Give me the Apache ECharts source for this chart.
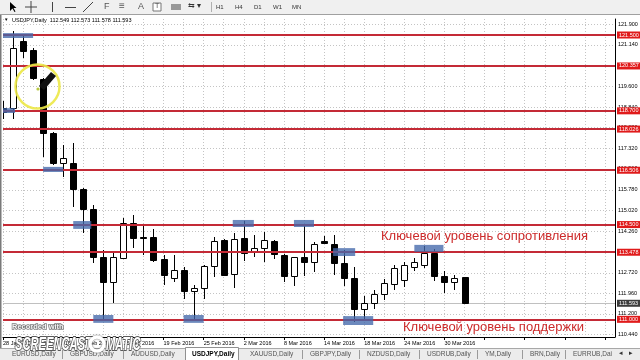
<!DOCTYPE html>
<html><head><meta charset="utf-8">
<script src="https://cdn.jsdelivr.net/npm/echarts@6/dist/echarts.min.js"></script>
<style>html,body{margin:0;padding:0;background:#fff}#c{width:640px;height:360px}</style>
</head><body><div id="c"></div>
<script>
const dates = ['28 Jan 2016','29 Jan 2016','1 Feb 2016','2 Feb 2016','3 Feb 2016','4 Feb 2016','5 Feb 2016','8 Feb 2016','9 Feb 2016','10 Feb 2016','11 Feb 2016','12 Feb 2016','15 Feb 2016','16 Feb 2016','17 Feb 2016','18 Feb 2016','19 Feb 2016','22 Feb 2016','23 Feb 2016','24 Feb 2016','25 Feb 2016','26 Feb 2016','29 Feb 2016','1 Mar 2016','2 Mar 2016','3 Mar 2016','4 Mar 2016','7 Mar 2016','8 Mar 2016','9 Mar 2016','10 Mar 2016','11 Mar 2016','14 Mar 2016','15 Mar 2016','16 Mar 2016','17 Mar 2016','18 Mar 2016','21 Mar 2016','22 Mar 2016','23 Mar 2016','24 Mar 2016','25 Mar 2016','28 Mar 2016','29 Mar 2016','30 Mar 2016','31 Mar 2016','1 Apr 2016'];
const opens  = [118.80,118.80,121.28,120.95,119.88,117.87,116.76,116.76,115.81,115.06,113.31,112.37,113.28,114.55,114.04,114.05,113.22,112.52,112.82,112.06,112.15,112.98,113.93,112.67,113.99,113.48,113.65,113.90,113.38,112.60,113.29,113.13,113.90,113.78,113.09,112.52,111.40,111.60,111.95,112.30,112.45,112.95,113.00,113.45,112.60,112.39,112.549];
const highs  = [119.05,121.65,121.47,121.02,119.91,117.92,117.44,117.51,115.85,115.22,113.56,113.50,114.73,114.85,114.48,114.32,113.38,113.38,112.94,112.27,113.00,114.03,113.96,114.18,114.64,114.11,114.24,113.93,113.40,113.31,114.52,113.87,114.06,114.11,113.56,112.94,111.85,112.10,112.50,113.00,113.10,113.25,113.70,113.60,112.80,112.64,112.573];
const lows   = [118.40,118.40,120.66,119.84,117.01,116.70,116.27,115.16,114.18,113.09,110.98,111.61,113.26,113.62,113.38,113.13,112.27,112.39,111.74,110.98,111.74,112.57,112.62,112.15,113.17,113.29,113.13,113.22,112.39,112.23,112.60,112.76,113.79,112.64,112.23,110.90,111.00,111.40,111.70,112.10,112.20,112.80,112.90,112.40,111.98,112.08,111.578];
const closes = [118.66,121.03,120.91,119.92,117.87,116.76,116.96,115.80,115.06,113.31,112.39,113.31,114.55,114.01,114.00,113.19,112.64,112.82,112.06,112.17,112.98,113.90,112.64,113.96,113.44,113.65,113.93,113.41,112.60,113.29,113.13,113.78,113.81,113.09,112.52,111.37,111.60,111.95,112.35,112.90,113.00,113.10,113.45,112.60,112.39,112.52,111.593];
const levels = [121.500,120.357,118.700,118.026,116.506,114.500,113.478,111.000];
const yTicks = [121.900,121.140,120.380,119.600,118.840,118.080,117.320,116.560,115.780,115.020,114.260,113.500,112.720,111.960,111.200,110.440];
const lastPrice = 111.593;
// zones: [barFrom, barTo, priceLow, priceHigh]
const zones = [[-0.2,3.0,121.39,121.57],[-0.2,1.2,118.62,118.80],[4.0,6.0,116.44,116.63],[7.0,8.8,114.34,114.63],[9.0,11.0,110.87,111.16],[18.0,20.0,110.87,111.16],[22.9,25.0,114.41,114.67],[29.0,31.0,114.41,114.67],[32.9,35.1,113.34,113.63],[33.9,36.9,110.79,111.12],[41.0,43.9,113.49,113.75]];
const header = 'USDJPY,Daily  112.549 112.573 111.578 111.593';
const resistText = 'Ключевой уровень сопротивления';
const supportText = 'Ключевой уровень поддержки';
const tabs = ['EURUSD,Daily','GBPUSD,Daily','AUDUSD,Daily','USDJPY,Daily','XAUUSD,Daily','GBPJPY,Daily','NZDUSD,Daily','USDRUB,Daily','YM,Daily','BRN,Daily','EURRUB,Dai'];
const tabX = [12,70,131,192,250,310,367,427,485,530,573];
const periods = ['H1','H4','D1','W1','MN'];

const FONT = 'Liberation Sans';
const candleData = dates.map((d,i)=>[i, opens[i], closes[i], lows[i], highs[i]]);

const chart = echarts.init(document.getElementById('c'), null, {renderer:'canvas'});

const gridStyle = {color:'#c4c4c4', type:[1,2], width:1};

const graphics = [];
// toolbar
graphics.push({type:'rect', shape:{x:0,y:0,width:640,height:14}, style:{fill:'#f0f0f0'}, z:100});
graphics.push({type:'line', shape:{x1:0,y1:14.5,x2:640,y2:14.5}, style:{stroke:'#a0a0a0',lineWidth:1}, z:100});
graphics.push({type:'polygon', shape:{points:[[10,2],[10,11],[12.5,8.5],[14.5,12],[15.5,11.5],[13.5,8],[16.5,8]]}, style:{fill:'#000'}, z:101});
graphics.push({type:'line', shape:{x1:25,y1:7,x2:37,y2:7}, style:{stroke:'#444',lineWidth:1}, z:101});
graphics.push({type:'line', shape:{x1:31,y1:1,x2:31,y2:13}, style:{stroke:'#444',lineWidth:1}, z:101});
graphics.push({type:'line', shape:{x1:52.5,y1:2,x2:52.5,y2:12}, style:{stroke:'#444',lineWidth:1}, z:101});
graphics.push({type:'line', shape:{x1:65,y1:7.5,x2:76,y2:7.5}, style:{stroke:'#444',lineWidth:1}, z:101});
graphics.push({type:'line', shape:{x1:83,y1:12,x2:93,y2:2}, style:{stroke:'#444',lineWidth:1}, z:101});
graphics.push({type:'text', style:{text:'F', x:104, y:2, fontSize:9, fontFamily:FONT, fill:'#555'}, z:101});
graphics.push({type:'text', style:{text:'≡', x:119, y:1, fontSize:10, fontFamily:FONT, fill:'#555'}, z:101});
graphics.push({type:'text', style:{text:'A', x:138, y:2, fontSize:9, fontFamily:FONT, fill:'#555'}, z:101});
graphics.push({type:'rect', shape:{x:153,y:3,width:8,height:8}, style:{fill:'#fff',stroke:'#777',lineWidth:1}, z:101});
graphics.push({type:'text', style:{text:'T', x:155, y:3, fontSize:7, fontFamily:FONT, fill:'#555'}, z:102});
graphics.push({type:'rect', shape:{x:171,y:4,width:10,height:6}, style:{fill:'#999'}, z:101});
graphics.push({type:'text', style:{text:'⇆ ▾', x:188, y:2, fontSize:8, fontFamily:FONT, fill:'#333'}, z:101});
graphics.push({type:'line', shape:{x1:211.5,y1:2,x2:211.5,y2:12}, style:{stroke:'#b0b0b0',lineWidth:1}, z:101});
periods.forEach((p,k)=>{
  graphics.push({type:'text', style:{text:p, x:216+k*19, y:4, fontSize:6, fontFamily:FONT, fill:'#333'}, z:101});
});
// chart header
graphics.push({type:'text', style:{text:'▼', x:4, y:17.5, fontSize:4.5, fontFamily:FONT, fill:'#000'}, z:50});
graphics.push({type:'text', style:{text:header, x:12, y:17.5, fontSize:5.5, fontFamily:FONT, fill:'#000'}, z:50});
// left border
graphics.push({type:'rect', shape:{x:0,y:15,width:1.5,height:333}, style:{fill:'#7a7a7a'}, z:50});
// annotation texts
graphics.push({type:'text', style:{text:resistText, x:381, y:230, fontSize:13, fontFamily:FONT, fill:'#cc2b2b'}, z:60});
graphics.push({type:'text', style:{text:supportText, x:403, y:321, fontSize:13, fontFamily:FONT, fill:'#cc2b2b'}, z:60});
// yellow highlight and pen
graphics.push({type:'circle', shape:{cx:37.5,cy:86.5,r:22}, style:{fill:'none',stroke:'rgba(236,232,70,0.9)',lineWidth:2.5}, z:70});
graphics.push({type:'polygon', shape:{points:[[39,86],[51,72],[56,76],[44,90]]}, style:{fill:'#111'}, z:71});
graphics.push({type:'circle', shape:{cx:38,cy:89,r:1.6}, style:{fill:'#b8c840'}, z:72});
// tabs bar
graphics.push({type:'rect', shape:{x:0,y:348,width:640,height:12}, style:{fill:'#ececec'}, z:90});
graphics.push({type:'line', shape:{x1:0,y1:348.5,x2:640,y2:348.5}, style:{stroke:'#a8a8a8',lineWidth:1}, z:91});
graphics.push({type:'rect', shape:{x:185.5,y:347.5,width:53,height:13}, style:{fill:'#fff',stroke:'#909090',lineWidth:1}, z:91});
tabs.forEach((t,k)=>{
  graphics.push({type:'text', style:{text:t, x:tabX[k], y:350.5, fontSize:6.5, fontFamily:FONT, fill: k===3?'#000':'#555', fontWeight: k===3?'bold':'normal'}, z:92});
  if (k>0 && k!==3 && k!==4) graphics.push({type:'line', shape:{x1:tabX[k]-7.5,y1:350,x2:tabX[k]-7.5,y2:359}, style:{stroke:'#9a9a9a',lineWidth:1}, z:92});
});
graphics.push({type:'text', style:{text:'◂   ▸', x:619, y:350, fontSize:7, fontFamily:FONT, fill:'#333'}, z:92});
// watermark
graphics.push({type:'text', style:{text:'Recorded with', x:12, y:323, fontSize:7.5, fontFamily:FONT, fontWeight:'bold', fill:'rgba(255,255,255,0.9)', stroke:'rgba(90,90,90,0.8)', lineWidth:1.5}, z:120});
graphics.push({type:'text', x:15, y:336, scaleX:0.62, style:{text:'SCREENCAST', x:0, y:0, fontSize:18, fontFamily:FONT, fontWeight:'bold', fontStyle:'italic', fill:'#ffffff', stroke:'#5a5a5a', lineWidth:2}, z:120});
graphics.push({type:'circle', shape:{cx:97,cy:344,r:7}, style:{fill:'none',stroke:'#ffffff',lineWidth:3.5, shadowColor:'rgba(0,0,0,0.6)', shadowBlur:2}, z:120});
graphics.push({type:'text', x:106, y:336, scaleX:0.62, style:{text:'MATIC', x:0, y:0, fontSize:18, fontFamily:FONT, fontWeight:'bold', fontStyle:'italic', fill:'#ffffff', stroke:'#5a5a5a', lineWidth:2}, z:120});

const option = {
  animation:false,
  backgroundColor:'#ffffff',
  textStyle:{fontFamily:FONT},
  grid:{left:3, right:25, top:19, bottom:23, containLabel:false},
  xAxis:{type:'value', min:0, max:61, interval:4,
    axisLine:{show:true, onZero:false, lineStyle:{color:'#000', width:1}},
    axisTick:{show:true, length:3, lineStyle:{color:'#000'}},
    axisLabel:{formatter:v=>dates[v]||'', fontSize:5.5, color:'#000', align:'left', margin:3, showMaxLabel:false, fontFamily:FONT},
    splitLine:{show:true, lineStyle:gridStyle},
    minorTick:{show:false, splitNumber:2},
    minorSplitLine:{show:true, lineStyle:gridStyle}},
  yAxis:{type:'value', position:'right', min:110.348, max:122.091,
    axisLine:{show:true, onZero:false, lineStyle:{color:'#000', width:1}},
    axisTick:{show:false}, axisLabel:{show:false}, splitLine:{show:false}},
  series:[
    {type:'line', data:[], silent:true,
      markLine:{silent:true, symbol:'none', z:1, precision:3, animation:false,
        lineStyle:gridStyle,
        label:{show:true, position:'end', distance:3, fontSize:5.5, color:'#000', fontFamily:FONT, formatter:p=>Number(p.value).toFixed(3)},
        data: yTicks.map(v=>({yAxis:v}))}},
    {type:'line', data:[], silent:true,
      markLine:{silent:true, symbol:'none', z:1, precision:3, animation:false,
        lineStyle:{color:'#c0c0c0', type:'solid', width:1},
        label:{show:true, position:'end', distance:2, fontSize:5.5, color:'#fff', backgroundColor:'#3c3c3c', padding:[1,2,0,2], fontFamily:FONT, formatter:p=>Number(p.value).toFixed(3)},
        data:[{yAxis:lastPrice}]}},
    {type:'custom', z:2, clip:true, data:candleData,
      renderItem:function(params, api){
        const i=api.value(0), o=api.value(1), c=api.value(2), l=api.value(3), h=api.value(4);
        const pO=api.coord([i,o]), pC=api.coord([i,c]), pL=api.coord([i,l]), pH=api.coord([i,h]);
        const x=Math.round(pO[0])+0.5;
        let top=Math.round(Math.min(pO[1],pC[1]))+0.5, bot=Math.round(Math.max(pO[1],pC[1]))+0.5;
        if (bot-top<1) bot=top+1;
        const bull=c>=o;
        return {type:'group', children:[
          {type:'line', shape:{x1:x,y1:Math.round(pH[1]),x2:x,y2:Math.round(pL[1])}, style:{stroke:'#000',lineWidth:1}},
          {type:'rect', shape:{x:x-3,y:top,width:6,height:bot-top}, style:{fill:bull?'#fff':'#000',stroke:'#000',lineWidth:1}}
        ]};
      }},
    {type:'line', data:[], silent:true,
      markLine:{silent:true, symbol:'none', z:3, precision:3, animation:false,
        lineStyle:{color:'#c42a36', type:'solid', width:2},
        label:{show:true, position:'end', distance:2, fontSize:5.5, color:'#fff', backgroundColor:'#e01b1b', padding:[1,2,0,2], fontFamily:FONT, formatter:p=>Number(p.value).toFixed(3)},
        data: levels.map(v=>({yAxis:v}))}},
    {type:'line', data:[], silent:true,
      markArea:{silent:true, z:4, itemStyle:{color:'rgba(66,104,170,0.78)'},
        data: zones.map(zn=>[{xAxis:zn[0], yAxis:zn[2]},{xAxis:zn[1], yAxis:zn[3]}])}}
  ],
  graphic:graphics
};
chart.setOption(option);
</script>
</body></html>
